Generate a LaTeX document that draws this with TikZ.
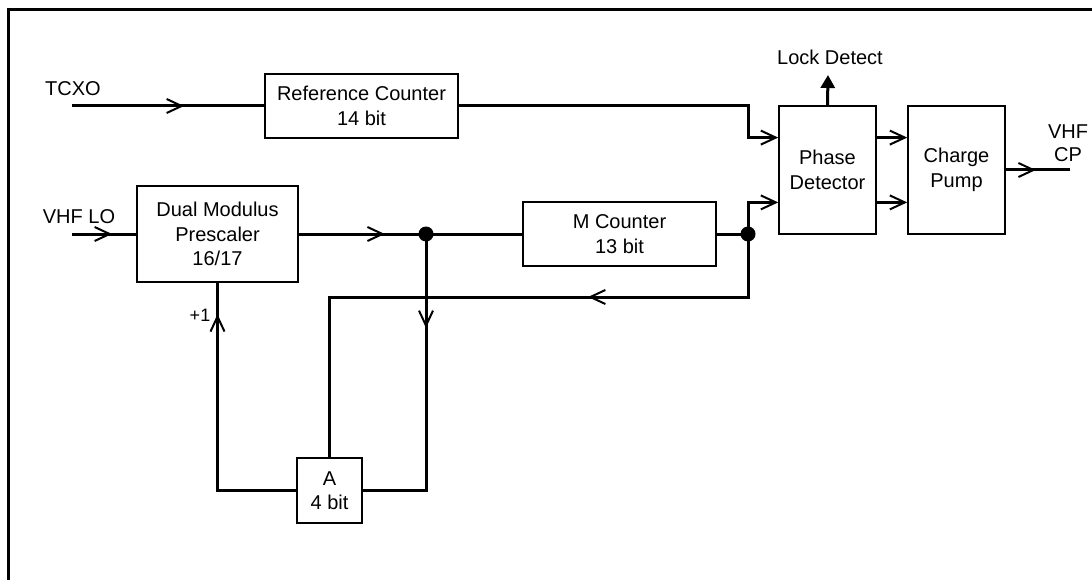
\documentclass[tikz,border=0pt]{standalone}
\usepackage{fontspec}
\setmainfont{Liberation Sans}
\usetikzlibrary{arrows.meta,decorations.markings,calc}
\tikzset{
  blk/.style={draw,line width=1.6pt,inner sep=0pt,align=center,font=\fontsize{20}{24.5}\selectfont},
  lbl/.style={inner sep=0pt,align=center,font=\fontsize{20}{23}\selectfont},
  wire/.style={line width=3pt},
  barb/.tip={Straight Barb[length=15pt,width=14pt,line width=2pt]},
  midarr/.style={postaction={decorate},decoration={markings,mark=at position #1 with {\arrow{barb}}}},
  jdot/.style={circle,fill,inner sep=0pt,minimum size=15pt},
}
\begin{document}
\begin{tikzpicture}[x=1pt,y=-1pt]
\useasboundingbox (0,0) rectangle (1092,580);
\clip (0,0) rectangle (1092,580);
\draw[line width=3pt] (1100,10) -- (8,10) -- (8,590);
% blocks
\node[blk,minimum width=193pt,minimum height=64pt] (ref) at (361.5,106) {Reference Counter\\14 bit};
\node[blk,minimum width=161pt,minimum height=96pt] (pre) at (217.5,234) {Dual Modulus\\Prescaler\\16/17};
\node[blk,minimum width=193pt,minimum height=64pt] (mc) at (619.5,234) {M Counter\\13 bit};
\node[blk,minimum width=97pt,minimum height=128pt] (pd) at (827.5,170) {Phase\\Detector};
\node[blk,minimum width=97pt,minimum height=128pt] (cp) at (956.5,170) {Charge\\Pump};
\node[blk,minimum width=65pt,minimum height=65pt] (ab) at (329.5,490.5) {A\\4 bit};
% labels
\node[lbl] (tcxol) at (73,89) {TCXO};
\node[lbl] (vhfl) at (79,217) {VHF LO};
\node[lbl] (ldl) at (830,57) {Lock Detect};
\node[lbl] (cpl) at (1068,143.5) {VHF\\CP};
\node[lbl,font=\fontsize{18}{20}\selectfont] (p1) at (200,315) {+1};
% points
\coordinate (tcxo) at (72,106);
\coordinate (vhflo) at (72,234);
\coordinate (out) at (1070,170);
\coordinate (ld) at (828,75);
\coordinate (pdi1) at ($(pd.west)!.5!(pd.north west)$);
\coordinate (pdi2) at ($(pd.west)!.5!(pd.south west)$);
\coordinate (pdo1) at ($(pd.east)!.5!(pd.north east)$);
\coordinate (pdo2) at ($(pd.east)!.5!(pd.south east)$);
\coordinate (cpi1) at ($(cp.west)!.5!(cp.north west)$);
\coordinate (cpi2) at ($(cp.west)!.5!(cp.south west)$);
\node[jdot] (d1) at (426,234) {};
\node[jdot] (d2) at (748,234) {};
\coordinate (fb) at (748,297);
% wires
\draw[wire,midarr=112pt] (tcxo) -- (ref.west);
\draw[wire,midarr=40pt] (vhflo) -- (pre.west);
\draw[wire,midarr=86pt] (pre.east) -- (d1.center);
\draw[wire] (d1.center) -- (mc.west);
\draw[wire] (mc.east) -- (d2.center);
\draw[wire,-{barb}] (ref.east) -| (d2 |- pdi1) -- (pdi1);
\draw[wire,-{barb}] (d2.center) |- (pdi2);
\draw[wire,-{barb}] (pdo1) -- (cpi1);
\draw[wire,-{barb}] (pdo2) -- (cpi2);
\draw[wire,midarr=30pt] (cp.east) -- (out);
\draw[wire,-{Triangle[length=13pt,width=14pt]}] (pd.north) -- (ld);
\draw[wire,midarr=223pt] (d2.center) -- (fb) -| (ab.north);
\draw[wire,midarr=94pt] (d1.center) |- (ab.east);
\draw[wire,midarr=255pt] (ab.west) -| (pre.south);
\end{tikzpicture}
\end{document}
